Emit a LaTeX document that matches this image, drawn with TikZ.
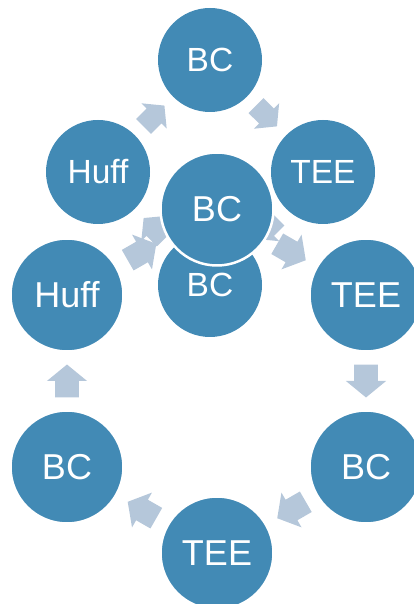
\documentclass[tikz,border=0pt]{standalone}
\usepackage{fontspec}
\setmainfont{Liberation Sans}
\definecolor{nodeblue}{RGB}{66,138,181}
\definecolor{arrowblue}{RGB}{181,199,218}
\tikzset{
  innernode/.style={circle, fill=nodeblue, minimum size=104pt, inner sep=0pt,
    text=white, font=\fontsize{33.5}{38}\selectfont},
  outernode/.style={circle, fill=nodeblue, draw=white, line width=2.5pt,
    minimum size=113pt, inner sep=0pt, text=white, font=\fontsize{36}{40}\selectfont},
  pics/cyclearrow/.style={code={
    \fill[arrowblue, scale=#1] (-16,-11.5) -- (0,-11.5) -- (0,-19.5) -- (16,0)
      -- (0,19.5) -- (0,11.5) -- (-16,11.5) -- cycle;}},
}
\begin{document}
\begin{tikzpicture}[x=1pt, y=1pt]
\useasboundingbox (0,0) rectangle (414,604);
% inner cycle
\node[innernode] (itop) at (210,544) {BC};
\node[innernode] (iright) at (323,432) {TEE};
\node[innernode] (ibot) at (210,319) {BC};
\node[innernode] (ileft) at (98,432) {Huff};
\path (itop) -- (iright) pic[midway, sloped, allow upside down] {cyclearrow=0.92};
\path (iright) -- (ibot) pic[midway, sloped, allow upside down] {cyclearrow=0.92};
\path (ibot) -- (ileft) pic[midway, sloped, allow upside down] {cyclearrow=0.92};
\path (ileft) -- (itop) pic[midway, sloped, allow upside down] {cyclearrow=0.92};
% outer cycle
\coordinate (otopc) at (217,395);
\coordinate (ourc) at (366,309);
\coordinate (olrc) at (366,137);
\coordinate (obotc) at (217,51);
\coordinate (ollc) at (67,137);
\coordinate (oulc) at (67,309);
\path (otopc) -- (ourc) pic[midway, sloped, allow upside down] {cyclearrow=1.03};
\path (ourc) -- (olrc) pic[midway, sloped, allow upside down] {cyclearrow=1.03};
\path (olrc) -- (obotc) pic[midway, sloped, allow upside down] {cyclearrow=1.03};
\path (obotc) -- (ollc) pic[midway, sloped, allow upside down] {cyclearrow=1.03};
\path (ollc) -- (oulc) pic[midway, sloped, allow upside down] {cyclearrow=1.03};
\path (oulc) -- (otopc) pic[midway, sloped, allow upside down] {cyclearrow=1.03};
\node[outernode] (otop) at (otopc) {BC};
\node[outernode] (our) at (ourc) {TEE};
\node[outernode] (olr) at (olrc) {BC};
\node[outernode] (obot) at (obotc) {TEE};
\node[outernode] (oll) at (ollc) {BC};
\node[outernode] (oul) at (oulc) {Huff};
\end{tikzpicture}
\end{document}
